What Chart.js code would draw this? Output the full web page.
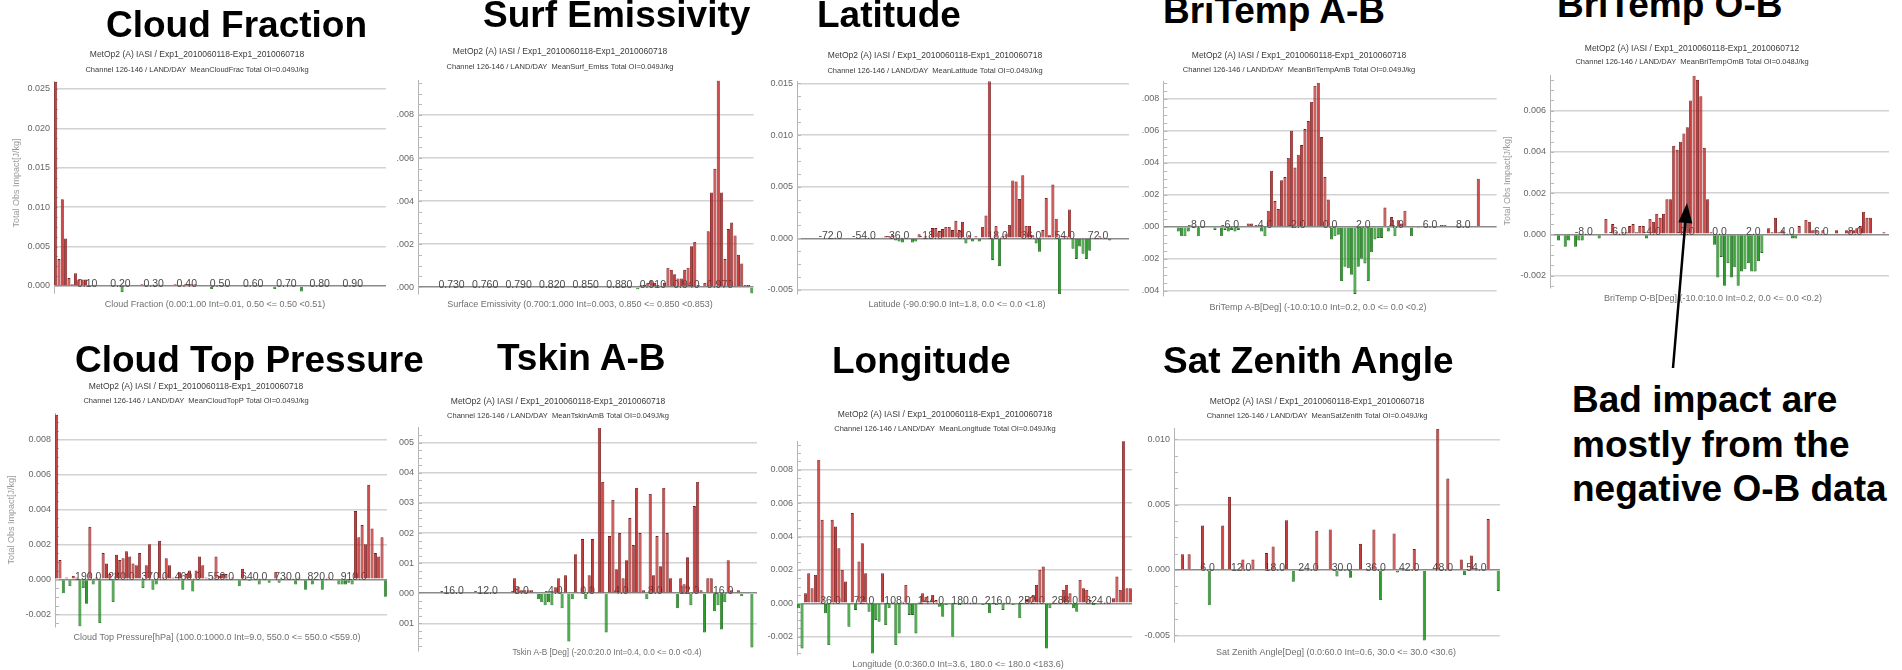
<!DOCTYPE html>
<html>
<head>
<meta charset="utf-8">
<script src="https://cdn.jsdelivr.net/npm/chart.js@4.4.1/dist/chart.umd.min.js"></script>
<style>
  body { margin: 0; width: 1902px; height: 670px; background: #fff; position: relative; overflow: hidden;
         font-family: "Liberation Sans", Arial, sans-serif; }
  .panel { position: absolute; overflow: hidden; background: #fff; }
  .panel canvas { position: absolute; top: 0; }
  .big { position: absolute; font-weight: bold; font-size: 37px; line-height: 37px; color: #000;
         white-space: nowrap; z-index: 5; }
  .note { position: absolute; left: 1572px; top: 378px; font-weight: bold; font-size: 37px;
          line-height: 44.5px; color: #000; white-space: nowrap; z-index: 5; }
</style>
</head>
<body>

<div class="big" style="left:106px;top:6px">Cloud Fraction</div>
<div class="big" style="left:483px;top:-4px">Surf Emissivity</div>
<div class="big" style="left:817px;top:-4px">Latitude</div>
<div class="big" style="left:1163px;top:-8px">BriTemp A-B</div>
<div class="big" style="left:1557px;top:-14px">BriTemp O-B</div>
<div class="big" style="left:75px;top:341px">Cloud Top Pressure</div>
<div class="big" style="left:497px;top:339px">Tskin A-B</div>
<div class="big" style="left:832px;top:342px">Longitude</div>
<div class="big" style="left:1163px;top:342px">Sat Zenith Angle</div>
<div class="note">Bad impact are<br>mostly from the<br>negative O-B data</div>

<svg width="1902" height="670" style="position:absolute;left:0;top:0;z-index:6;pointer-events:none">
  <line x1="1673" y1="368" x2="1685.4" y2="222" stroke="#000" stroke-width="2.5"/>
  <polygon points="1687,203 1692.3,223.5 1678.3,222.3" fill="#000"/>
</svg>

<script>
// **Bin values (Total Obs Impact, J/kg), 100 bins per panel**
const cloudFracVals = [
  0.0259, 0.0034, 0.011, 0.006, 0.001, 0.0002, 0.0016, 0.0008, 0.0008, 0.0008,
  0.0001, 0, -0.0001, -0.0001, 0, 0, -0.0001, -0.0001, 0, 0,
  -0.0008, 0, 0, 0, 0, 0, 0.0002, 0.0001, 0, 0,
  0, 0, 0, 0, 0, 0, 0.0002, 0, 0.0001, 0.0002,
  0.0002, 0.0002, 0.0002, 0.0001, 0.0001, 0, 0, -0.0004, 0, 0,
  0, 0, 0, 0, 0, 0, 0, 0, 0, 0,
  0, 0, 0, -0.0001, 0, 0, -0.0004, 0, 0, 0,
  0, 0, 0, 0, -0.0007, 0, 0, 0, 0, 0,
  0, 0, 0, 0, 0, 0, 0, 0, 0, 0,
  0, 0, 0, 0, 0, 0, 0, 0, 0, 0
];
const surfEmisVals = [
  0, 0, 0, 0, 0, 0, 0, 0, 0, 0,
  0, 0, 0, 0, 0, 0, 0, 0, 0, 0,
  0, 0, 0, 0, 0, 0, 0, 0, 0, 0,
  0, 0, 0, 0, 0, 0, 0, 0, 0, 0,
  0, 0, 0, 0, 0, 0, 0, 0, 0, 0,
  0, 0, 0, 0, 0, 0, 0, 0, 0, 0,
  0, 0, 0, 0, 0, -0.0001, 0.0001, 0.0001, 0.0002, 0.0003,
  0.0002, 0.0001, 0, 0.0002, 0.0009, 0.0008, 0.0006, 0.0004, 0.0004, 0.0008,
  0.0009, 0.0019, 0.0021, 0.0001, 0, 0.0002, 0.0026, 0.0044, 0.0055, 0.0096,
  0.0044, 0.0013, 0.0027, 0.003, 0.0024, 0.0015, 0.0011, 0.0001, 0.0001, -0.0003
];
const latVals = [
  0, 0, 0, 0, 0, 0, 0, 0, 0, 0,
  0, 0, 0, 0, 0, 0, 0, 0, 0, 0,
  0, 0, 0, 0, 0, 0.0001, 0.0002, 0.0002, 0.0003, -0.0002,
  -0.0003, -0.0004, 0, 0, -0.0004, -0.0003, 0.0004, 0.0001, 0.0002, 0,
  0.001, 0.001, 0.0007, 0.0009, 0.0011, 0.0011, 0.0008, 0.0017, 0.0008, 0.0016,
  -0.0005, 0.0003, -0.0003, 0.0002, -0.0003, 0.0011, 0.0022, 0.0152, -0.0021, 0.0012,
  -0.0027, 0.0002, 0.0004, 0.0013, 0.0056, 0.0055, 0.0038, 0.0061, 0.0012, 0.0012,
  0.0003, -0.0005, -0.0013, 0.0008, 0.0039, 0.0003, 0.0052, 0.0019, -0.0054, 0.0002,
  0.0002, 0.0028, -0.001, -0.002, -0.0008, -0.0015, -0.002, -0.0012, 0.0001, 0,
  0.0002, 0.0001, 0, -0.0002, 0, 0, 0, 0, 0, 0
];
const btAmBVals = [
  0, 0, 0, 0, -0.0003, -0.0006, -0.0006, -0.0003, 0, 0,
  -0.0006, 0, 0, 0, 0, -0.0002, 0, -0.0006, -0.0002, -0.0003,
  -0.0002, -0.0003, -0.0002, 0, 0, 0.0002, 0.0002, 0, 0, -0.0003,
  -0.0006, 0.001, 0.0035, 0.0016, 0.0011, 0.0029, 0.0031, 0.0043, 0.006, 0.0037,
  0.0045, 0.0051, 0.0061, 0.0066, 0.0078, 0.0088, 0.009, 0.0056, 0.0031, 0.0017,
  -0.0008, -0.0006, -0.0005, -0.0034, -0.0025, -0.0026, -0.003, -0.0042, -0.0025, -0.002,
  -0.0023, -0.0034, -0.0016, -0.0008, -0.0007, -0.0007, 0.0012, -0.0003, 0.0006, -0.0006,
  0.0004, 0.0002, 0.001, 0, -0.0006, 0, -0.0001, 0, 0, 0,
  0, 0, 0, 0.0001, 0.0001, 0, 0, 0, 0, 0,
  0, 0, 0, 0, 0.003, 0, 0, 0, 0, 0
];
const btOmBVals = [
  0, 0, -0.0003, 0, -0.0006, -0.0003, 0, -0.0006, -0.0003, -0.0003,
  0, 0, 0, 0, -0.0002, 0, 0.00075, 0, 0.0005, 0.0001,
  0, 0.0001, 0.0001, 0.0004, 0.0005, 0.0001, 0.0004, 0.0004, -0.0002, 0.00075,
  0.0006, 0.001, 0.0008, 0.001, 0.0017, 0.0017, 0.0043, 0.0041, 0.0045, 0.0049,
  0.0052, 0.0065, 0.0077, 0.0075, 0.0067, 0.0042, 0.0017, 0.0001, -0.0005, -0.0021,
  -0.0011, -0.0025, -0.0014, -0.0021, -0.0016, -0.0025, -0.0018, -0.0017, -0.0014, -0.0018,
  -0.0018, -0.0013, -0.0009, 0, 0.0003, 0.0001, 0.0008, 0.0001, 0.0002, 0,
  0, -0.0002, -0.0002, 0.0004, 0, 0.0007, 0.0006, 0.0002, 0.0002, 0,
  0.0002, 0, 0, 0, 0.0002, 0, 0, 0.0002, 0.0002, 0.0002,
  0.0003, 0.0004, 0.0011, 0.0008, 0.0008, 0, 0, 0, 0.0001, 0
];
const ctpVals = [
  0.0094, 0.0011, -0.0008, 0.0001, -0.0004, 0.0002, 0.0001, -0.0027, -0.0005, -0.0014,
  0.003, -0.0003, 0.0001, -0.0025, 0.0015, 0.0009, 0.0003, -0.0013, 0.0014, 0.0011,
  0.0012, 0.0016, 0.0013, 0.0009, 0.0008, 0.0015, -0.0005, 0.0008, 0.002, -0.0006,
  -0.0003, 0.0022, 0.0001, 0.0012, 0.0008, 0.0001, 0.0001, 0.0004, -0.0006, 0.0003,
  0.0005, -0.0007, 0.0005, 0.0013, 0.0008, 0.0001, 0, 0.0001, 0.0013, 0.0002,
  0.0003, 0.0003, 0, 0.0001, 0, -0.0004, 0.0006, 0.0001, -0.0001, 0,
  0, -0.0003, 0, 0, -0.0002, 0, 0.0004, -0.0002, 0, 0.0001,
  0, 0, -0.0003, 0.0001, 0, -0.0006, 0, -0.0003, 0, 0,
  -0.0006, 0, 0.0001, 0, 0, -0.0003, -0.0003, -0.0003, -0.0002, -0.0003,
  0.0039, 0.0024, 0.0031, 0.002, 0.0054, 0.0029, 0.0015, 0.0013, 0.0024, -0.001
];
const tskinVals = [
  0, 0, 0, 0, 0, 0, 0, 0, 0, 0,
  0, 0, 0, 0, 0, 0, 0, 0, 0, 0,
  0, 0, 0, 0, 0, 0, 0, 0, 0.0005, 0.0002,
  0.0001, 0.0001, 0.0001, 0.0001, 0, -0.0002, -0.0003, -0.0004, -0.0003, -0.0004,
  0.0002, 0.0005, -0.0005, 0.0006, -0.0016, -0.0002, 0.0013, 0, 0.0018, -0.0002,
  0.0006, 0.0018, 0, 0.0055, 0.0037, -0.0013, 0.0019, 0.0031, 0.0008, 0.002,
  0.0005, 0.0011, 0.0025, 0.0016, 0.0035, 0.002, 0.0001, -0.0002, 0.0033, 0.0006,
  0.0019, 0.0009, 0.0035, 0.002, 0.0005, 0, -0.0005, 0.0005, 0.0003, 0.0012,
  -0.0004, 0.0029, 0.0037, 0.0001, -0.0013, 0.0005, 0.0005, -0.0006, -0.0004, -0.0012,
  -0.0003, 0.0011, 0.0001, 0, 0.0001, -0.0001, 0, 0, -0.0018, 0
];
const lonVals = [
  -0.0003, -0.0027, 0.0006, 0.0018, 0.0009, 0.0017, 0.0086, 0.005, -0.0006, -0.0025,
  0.005, 0.0046, 0.0033, 0.002, 0.0013, -0.0014, 0.0054, -0.0004, 0.0025, 0.0036,
  0.0018, -0.0005, -0.003, -0.001, -0.0011, 0.0018, -0.0013, -0.0003, 0.0001, -0.0025,
  -0.0018, 0.0001, 0.0011, -0.0007, -0.0007, -0.0018, 0.0001, 0.0006, 0.0004, 0.0001,
  0.0005, 0.0002, -0.0002, -0.0008, -0.0001, 0, -0.002, 0, -0.0001, 0,
  0, 0, 0, 0, 0, -0.0001, 0, -0.0006, 0, -0.0001,
  0, -0.0004, 0, 0, -0.0001, 0, -0.0009, 0, 0.0002, 0.0004,
  0.0005, 0.0011, 0.002, 0.0022, -0.0027, -0.0003, 0.0001, 0, 0.0001, 0.0008,
  0.0011, 0.0006, -0.0003, -0.0005, 0.0014, 0.0009, 0.0008, 0.0002, -0.0001, 0,
  0.0001, 0, 0.0001, 0, 0.0003, 0.0016, 0.0008, 0.0098, 0.0009, 0.0009
];
const satZenVals = [
  0, 0, 0.0012, 0, 0.0012, 0, 0, 0, 0.0034, 0,
  -0.0027, 0, 0, 0, 0.0034, 0, 0.0056, 0, 0, 0,
  0.0008, 0, 0, 0.0008, 0, 0, 0, 0.0013, 0, 0.0018,
  0, 0, 0, 0.0038, 0, -0.0009, 0, 0, 0, -0.0001,
  0, 0, 0.003, 0, 0, 0, 0.0031, 0, -0.0005, 0,
  0, 0, -0.0006, 0, 0, 0.002, 0, 0, 0, 0.0031,
  0, -0.0023, 0, 0, 0, 0.0028, -0.0002, 0, 0, 0,
  0, 0.0016, 0, 0, -0.0054, 0, 0, 0, 0.0108, 0,
  0, 0.007, 0, 0, 0, 0.0008, -0.0004, 0, 0.0011, 0,
  0, 0, 0, 0.0039, 0, 0, -0.0016, 0, 0, 0
];

// **Y ticks and the labels visible next to them**
const cfYTicks = [0, 0.005, 0.01, 0.015, 0.02, 0.025];
const cfYLabels = ["0.000", "0.005", "0.010", "0.015", "0.020", "0.025"];
const seYTicks = [0, 0.002, 0.004, 0.006, 0.008];
const seYLabels = [".000", ".002", ".004", ".006", ".008"];
const latYTicks = [-0.005, 0, 0.005, 0.01, 0.015];
const latYLabels = ["-0.005", "0.000", "0.005", "0.010", "0.015"];
const abYTicks = [-0.004, -0.002, 0, 0.002, 0.004, 0.006, 0.008];
const abYLabels = [".004", ".002", ".000", ".002", ".004", ".006", ".008"];
const obYTicks = [-0.002, 0, 0.002, 0.004, 0.006];
const obYLabels = ["-0.002", "0.000", "0.002", "0.004", "0.006"];
const ctpYTicks = [-0.002, 0, 0.002, 0.004, 0.006, 0.008];
const ctpYLabels = ["-0.002", "0.000", "0.002", "0.004", "0.006", "0.008"];
const tsYTicks = [-0.001, 0, 0.001, 0.002, 0.003, 0.004, 0.005];
const tsYLabels = ["001", "000", "001", "002", "003", "004", "005"];
const lonYTicks = [-0.002, 0, 0.002, 0.004, 0.006, 0.008];
const lonYLabels = ["-0.002", "0.000", "0.002", "0.004", "0.006", "0.008"];
const szYTicks = [-0.005, 0, 0.005, 0.01];
const szYLabels = ["-0.005", "0.000", "0.005", "0.010"];

// **X tick labels drawn along the zero line**
const cfXTicks = [0.1, 0.2, 0.3, 0.4, 0.5, 0.6, 0.7, 0.8, 0.9];
const cfXLabels = ["0.10", "0.20", "0.30", "0.40", "0.50", "0.60", "0.70", "0.80", "0.90"];
const seXTicks = [0.73, 0.76, 0.79, 0.82, 0.85, 0.88, 0.91, 0.94, 0.97];
const seXLabels = ["0.730", "0.760", "0.790", "0.820", "0.850", "0.880", "0.910", "0.940", "0.970"];
const latXTicks = [-72, -54, -36, -18, 0, 18, 36, 54, 72];
const latXLabels = ["-72.0", "-54.0", "-36.0", "-18.0", "0.0", "18.0", "36.0", "54.0", "72.0"];
const btXTicks = [-8, -6, -4, -2, 0, 2, 4, 6, 8];
const btXLabels = ["-8.0", "-6.0", "-4.0", "-2.0", "0.0", "2.0", "4.0", "6.0", "8.0"];
const ctpXTicks = [190, 280, 370, 460, 550, 640, 730, 820, 910];
const ctpXLabels = ["190.0", "280.0", "370.0", "460.0", "550.0", "640.0", "730.0", "820.0", "910.0"];
const tsXTicks = [-16, -12, -8, -4, 0, 4, 8, 12, 16];
const tsXLabels = ["-16.0", "-12.0", "-8.0", "-4.0", "0.0", "4.0", "8.0", "12.0", "16.0"];
const lonXTicks = [36, 72, 108, 144, 180, 216, 252, 288, 324];
const lonXLabels = ["36.0", "72.0", "108.0", "144.0", "180.0", "216.0", "252.0", "288.0", "324.0"];
const szXTicks = [6, 12, 18, 24, 30, 36, 42, 48, 54];
const szXLabels = ["6.0", "12.0", "18.0", "24.0", "30.0", "36.0", "42.0", "48.0", "54.0"];

const HEAD1 = "MetOp2 (A) IASI / Exp1_2010060118-Exp1_2010060718";
const Y_TITLE = "Total Obs Impact[J/kg]";
const FONT = "'Liberation Sans', Arial, sans-serif";

// **Panel layout: clip box and plot area in page pixels**
const panels = [
  { vals: cloudFracVals, range: [0, 1], step: 0.01, yMin: -0.0009, yMax: 0.026,
    yTicks: cfYTicks, yLabels: cfYLabels, xTicks: cfXTicks, xLabels: cfXLabels,
    head: [HEAD1, "Channel 126-146 / LAND/DAY  MeanCloudFrac Total OI=0.049J/kg"],
    xTitle: "Cloud Fraction (0.00:1.00 Int=0.01, 0.50 <= 0.50 <0.51)",
    box: [0, 40, 388, 322], area: [54, 81, 386, 293],
    headX: 197, headY: [55, 70], headW: [231, 233], titleX: 215, titleY: 305, titleW: 250, yTitle: [17, 183] },
  { vals: surfEmisVals, range: [0.7, 1.0], step: 0.003, yMin: -0.0003, yMax: 0.0096,
    yTicks: seYTicks, yLabels: seYLabels, xTicks: seXTicks, xLabels: seXLabels,
    head: [HEAD1, "Channel 126-146 / LAND/DAY  MeanSurf_Emiss Total OI=0.049J/kg"],
    xTitle: "Surface Emissivity (0.700:1.000 Int=0.003, 0.850 <= 0.850 <0.853)",
    box: [389, 40, 756, 322], area: [418, 80.6, 753.5, 293.5],
    headX: 560, headY: [52, 67], headW: [237, 235], titleX: 580, titleY: 305, titleW: 293 },
  { vals: latVals, range: [-90, 90], step: 1.8, yMin: -0.0054, yMax: 0.0152,
    yTicks: latYTicks, yLabels: latYLabels, xTicks: latXTicks, xLabels: latXLabels,
    head: [HEAD1, "Channel 126-146 / LAND/DAY  MeanLatitude Total OI=0.049J/kg"],
    xTitle: "Latitude (-90.0:90.0 Int=1.8, 0.0 <= 0.0 <1.8)",
    box: [757, 40, 1129, 322], area: [797, 81.3, 1131.5, 294.1],
    headX: 935, headY: [56, 70.7], headW: [243, 237], titleX: 957, titleY: 305, titleW: 203 },
  { vals: btAmBVals, range: [-10, 10], step: 0.2, yMin: -0.0043, yMax: 0.0091,
    yTicks: abYTicks, yLabels: abYLabels, xTicks: btXTicks, xLabels: btXLabels,
    head: [HEAD1, "Channel 126-146 / LAND/DAY  MeanBriTempAmB Total OI=0.049J/kg"],
    xTitle: "BriTemp A-B[Deg] (-10.0:10.0 Int=0.2, 0.0 <= 0.0 <0.2)",
    box: [1129, 40, 1497, 322], area: [1163.3, 81.1, 1496.6, 295.5],
    headX: 1299, headY: [56, 70], headW: [245, 243], titleX: 1318, titleY: 308, titleW: 253 },
  { vals: btOmBVals, range: [-10, 10], step: 0.2, yMin: -0.0026, yMax: 0.0077,
    yTicks: obYTicks, yLabels: obYLabels, xTicks: btXTicks, xLabels: btXLabels,
    head: ["MetOp2 (A) IASI / Exp1_2010060118-Exp1_2010060712", "Channel 126-146 / LAND/DAY  MeanBriTempOmB Total OI=0.048J/kg"],
    xTitle: "BriTemp O-B[Deg] (-10.0:10.0 Int=0.2, 0.0 <= 0.0 <0.2)",
    box: [1497, 40, 1902, 322], area: [1550, 75.7, 1889, 287.9],
    headX: 1692, headY: [49, 62], headW: [242, 240], titleX: 1713, titleY: 299, titleW: 250, yTitle: [1508, 181] },
  { vals: ctpVals, range: [100, 1000], step: 9, yMin: -0.0027, yMax: 0.0095,
    yTicks: ctpYTicks, yLabels: ctpYLabels, xTicks: ctpXTicks, xLabels: ctpXLabels,
    head: [HEAD1, "Channel 126-146 / LAND/DAY  MeanCloudTopP Total OI=0.049J/kg"],
    xTitle: "Cloud Top Pressure[hPa] (100.0:1000.0 Int=9.0, 550.0 <= 550.0 <559.0)",
    box: [0, 378, 393, 670], area: [55, 413, 387, 626.6],
    headX: 196, headY: [387, 401], headW: [242, 237], titleX: 217, titleY: 638, titleW: 318, yTitle: [12, 520] },
  { vals: tskinVals, range: [-20, 20], step: 0.4, yMin: -0.0019, yMax: 0.0055,
    yTicks: tsYTicks, yLabels: tsYLabels, xTicks: tsXTicks, xLabels: tsXLabels,
    head: [HEAD1, "Channel 126-146 / LAND/DAY  MeanTskinAmB Total OI=0.049J/kg"],
    xTitle: "Tskin A-B [Deg] (-20.0:20.0 Int=0.4, 0.0 <= 0.0 <0.4)",
    box: [394, 378, 757, 670], area: [418, 427.7, 757, 650.5],
    headX: 558, headY: [402, 416], headW: [243, 232], titleX: 607, titleY: 653, titleW: 189 },
  { vals: lonVals, range: [0, 360], step: 3.6, yMin: -0.0031, yMax: 0.0097,
    yTicks: lonYTicks, yLabels: lonYLabels, xTicks: lonXTicks, xLabels: lonXLabels,
    head: [HEAD1, "Channel 126-146 / LAND/DAY  MeanLongitude Total OI=0.049J/kg"],
    xTitle: "Longitude (0.0:360.0 Int=3.6, 180.0 <= 180.0 <183.6)",
    box: [757, 378, 1134, 670], area: [797, 441.3, 1132, 655.1],
    headX: 945, headY: [415, 429], headW: [226, 226], titleX: 958, titleY: 665, titleW: 237 },
  { vals: satZenVals, range: [0, 60], step: 0.6, yMin: -0.0055, yMax: 0.0108,
    yTicks: szYTicks, yLabels: szYLabels, xTicks: szXTicks, xLabels: szXLabels,
    head: [HEAD1, "Channel 126-146 / LAND/DAY  MeanSatZenith Total OI=0.049J/kg"],
    xTitle: "Sat Zenith Angle[Deg] (0.0:60.0 Int=0.6, 30.0 <= 30.0 <30.6)",
    box: [1134, 378, 1500, 670], area: [1174, 428.8, 1510, 641.9],
    headX: 1317, headY: [402, 416], headW: [231, 230], titleX: 1336, titleY: 653, titleW: 268 }
];

// **Bin start labels for the category axis**
function binLabels(min, step, n) {
  let out = [];
  for (let i = 0; i < n; i++) out.push((min + i * step).toFixed(3));
  return out;
}

// **Texts around each plot (headers, axis titles, zero-line labels) + minor y ticks**
function panelText(p, ox, oy) {
  return {
    id: "panelText",
    beforeDatasetsDraw(chart) {
      const ctx = chart.ctx, xs = chart.scales.x, ys = chart.scales.y;
      const y0 = ys.getPixelForValue(0);
      ctx.save();
      // minor ticks on the left axis, four per major step
      let minor = (p.yTicks[1] - p.yTicks[0]) / 4;
      ctx.strokeStyle = "#b8b8b8";
      ctx.lineWidth = 1;
      ctx.beginPath();
      for (let v = p.yTicks[0] - 8 * minor; v <= p.yMax; v += minor) {
        if (v < p.yMin) continue;
        let y = Math.round(ys.getPixelForValue(v)) + 0.5;
        ctx.moveTo(xs.left, y);
        ctx.lineTo(xs.left + 4, y);
      }
      ctx.stroke();

      ctx.font = "10.5px " + FONT;
      ctx.fillStyle = "#4a4a4a";
      ctx.textAlign = "center";
      ctx.textBaseline = "alphabetic";
      p.xTicks.forEach((v, i) => {
        let x = xs.left + (v - p.range[0]) / (p.range[1] - p.range[0]) * xs.width;
        ctx.fillText(p.xLabels[i], x, y0 + 1);
      });
      ctx.restore();
    },
    afterDraw(chart) {
      const ctx = chart.ctx;
      ctx.save();
      ctx.textAlign = "center";
      ctx.textBaseline = "middle";
      ctx.fillStyle = "#3a3a3a";
      ctx.font = "8.5px " + FONT;
      ctx.fillText(p.head[0], p.headX - ox, p.headY[0] - oy, p.headW[0]);
      ctx.font = "7.5px " + FONT;
      ctx.fillText(p.head[1], p.headX - ox, p.headY[1] - oy, p.headW[1]);
      ctx.fillStyle = "#707070";
      ctx.font = "9px " + FONT;
      ctx.fillText(p.xTitle, p.titleX - ox, p.titleY - oy, p.titleW);
      if (p.yTitle) {
        ctx.translate(p.yTitle[0] - ox, p.yTitle[1] - oy);
        ctx.rotate(-Math.PI / 2);
        ctx.fillStyle = "#9a9a9a";
        ctx.fillText(Y_TITLE, 0, 0, 108);
      }
      ctx.restore();
    }
  };
}

function makePanel(p) {
  let div = document.createElement("div");
  div.className = "panel";
  let bw = p.box[2] - p.box[0], bh = p.box[3] - p.box[1];
  div.style.left = p.box[0] + "px";
  div.style.top = p.box[1] + "px";
  div.style.width = bw + "px";
  div.style.height = bh + "px";
  document.body.appendChild(div);

  // canvas starts 60px left of the plot so the y labels have room; the div clips it
  const LEFT = 60, AXIS_W = 50;
  let cx = Math.floor(p.area[0] - LEFT);
  let w = Math.max(p.box[2], Math.ceil(p.area[2]) + 2) - cx;
  let cv = document.createElement("canvas");
  cv.width = w; cv.height = bh;
  cv.style.width = w + "px"; cv.style.height = bh + "px";
  cv.style.left = (cx - p.box[0]) + "px";
  div.appendChild(cv);

  new Chart(cv.getContext("2d"), {
    type: "bar",
    data: {
      labels: binLabels(p.range[0], p.step, p.vals.length),
      datasets: [{
        data: p.vals,
        backgroundColor: c => c.raw >= 0 ? "#c93b3b" : "#2c9e2c",
        borderColor: c => c.raw >= 0 ? "#7a1b1b" : "#1b6c1b",
        borderWidth: 0.9,
        barPercentage: 0.92,
        categoryPercentage: 1
      }]
    },
    options: {
      responsive: false,
      animation: false,
      devicePixelRatio: 1,
      layout: {
        padding: {
          left: p.area[0] - cx - AXIS_W,
          top: p.area[1] - p.box[1],
          right: w - (p.area[2] - cx),
          bottom: bh - (p.area[3] - p.box[1])
        }
      },
      plugins: { legend: { display: false }, tooltip: { enabled: false } },
      scales: {
        x: { display: false, offset: true },
        y: {
          min: p.yMin, max: p.yMax,
          afterFit: s => { s.width = AXIS_W; },
          afterBuildTicks: s => { s.ticks = p.yTicks.map(v => ({ value: v })); },
          ticks: {
            autoSkip: false, padding: 4, color: "#666",
            font: { family: FONT, size: 9 },
            callback: (v, i) => p.yLabels[i]
          },
          grid: {
            drawTicks: false,
            color: c => (c.tick && c.tick.value === 0) ? "#8a8a8a" : "#d2d2d2",
            lineWidth: c => (c.tick && c.tick.value === 0) ? 1.6 : 1.5
          },
          border: { display: true, color: "#b4b4b4", width: 1 }
        }
      }
    },
    plugins: [panelText(p, cx, p.box[1])]
  });
}

panels.forEach(makePanel);
</script>
</body>
</html>
